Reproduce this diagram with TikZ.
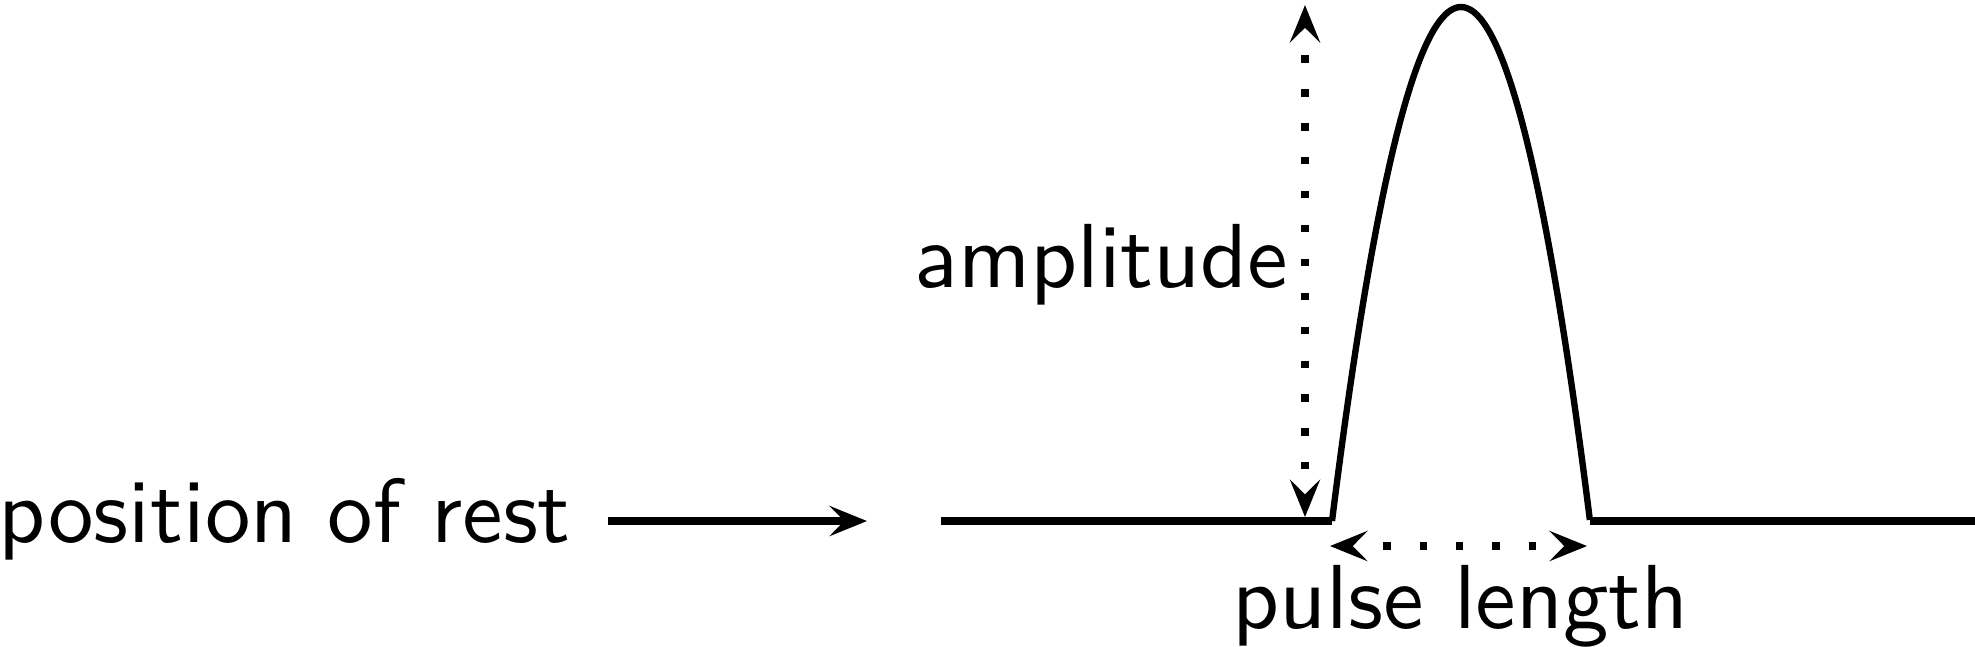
\documentclass[tikz,border=0pt]{standalone}
\usetikzlibrary{arrows.meta}
\tikzset{
  tiphead/.tip={Stealth[length=4.1pt,width=3.3pt,inset=1.6pt]},
  tipline/.style={line width=0.8pt, -tiphead},
  dimtips/.style={line width=0.8pt, dash pattern=on 0pt off 10000pt, tiphead-tiphead},
  vdots/.style={line width=0.8pt, dash pattern=on 0.8pt off 2.925pt},
  hdots/.style={line width=0.8pt, dash pattern=on 0.8pt off 3.19pt},
  restline/.style={line width=0.8pt},
  pulseline/.style={line width=0.7pt, line join=round},
  lbl/.style={font=\sffamily, inner sep=0pt}
}
\begin{document}
\begin{tikzpicture}[x=0.10989pt,y=-0.10989pt]
\useasboundingbox (0,0) rectangle (1975,646);
% labels
\node[lbl,anchor=base west] (rest) at (-3,542) {position of rest};
\node[lbl,anchor=base east] (amp) at (1290,287) {amplitude};
\node[lbl,anchor=base west] (plen) at (1231,628) {pulse length};
% coordinates
\coordinate (a0) at (608,521);
\coordinate (a1) at (867,521);
\coordinate (b0) at (941,521);
\coordinate (p0) at (1332,521);
\coordinate (p1) at (1590,521);
\coordinate (b1) at (1975,521);
\coordinate (ampbot) at (1305,517);
\coordinate (amptop) at (1305,5);
\coordinate (ampd0) at (1305,55.4);
\coordinate (ampd1) at (1305,470);
\coordinate (lenl) at (1330,546);
\coordinate (lenr) at (1587,546);
\coordinate (lend0) at (1383.4,546);
\coordinate (lend1) at (1537,546);
% arrow to rest line
\draw[tipline] (a0) -- (a1);
% rest line and pulse
\draw[restline] (b0) -- (p0);
\draw[restline] (p1) -- (b1);
\draw[pulseline] plot[domain=-1:1,samples=101,smooth] ({1461+129*\x},{7+514*\x*\x});
% dimension arrows: tips and dotted shafts
\draw[dimtips] (ampbot) -- (amptop);
\draw[vdots] (ampd0) -- (ampd1);
\draw[dimtips] (lenl) -- (lenr);
\draw[hdots] (lend0) -- (lend1);
\end{tikzpicture}
\end{document}
